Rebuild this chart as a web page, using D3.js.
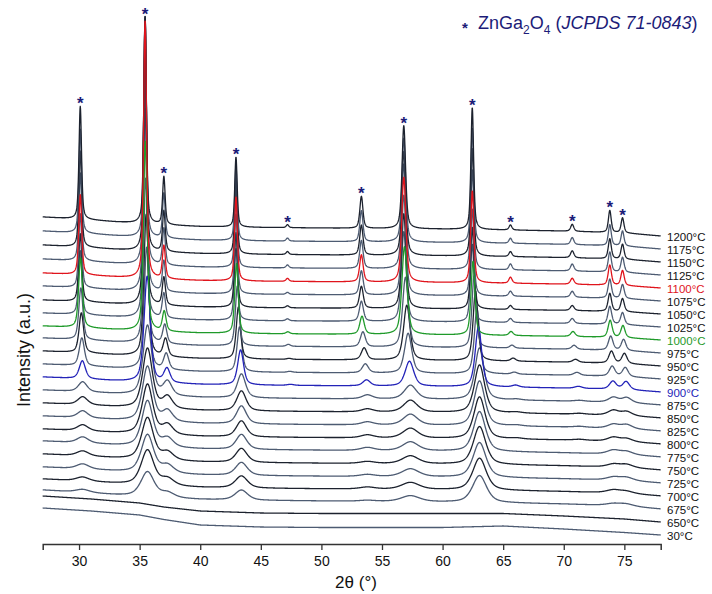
<!DOCTYPE html>
<html><head><meta charset="utf-8">
<script src="https://cdn.jsdelivr.net/npm/d3@7"></script>
<style>body{margin:0;background:#fff}svg{display:block}</style>
</head><body>
<svg id="c" width="712" height="594"></svg>
<script>
// ---------------- data ----------------
const temps = ["30","650","675","700","725","750","775","800","825","850","875","900",
               "925","950","975","1000","1025","1050","1075","1100","1125","1150","1175","1200"];
const majorTicks = [30,35,40,45,50,55,60,65,70,75];
// ZnGa2O4 reflections (2θ) for low- and high-temperature patterns
const peakPosLow  = [30.3,35.65,37.3,43.4,47.5,53.8,57.35,63.05,66.1,71.3,74.1,75.2];
const peakPosHigh = [30.1,35.45,37.0,42.95,47.2,53.3,56.8,62.45,65.6,70.7,73.8,74.85];
const peakWidthFactor = [1,1,1,0.95,1,1.2,1.4,1.05,1.1,1.2,1.1,1.1];
// per-temperature peak shift fraction (0 = low, 1 = high position)
const shiftFrac = [0,0,0,0,0,0,0,0,0,0,0,0.15,0.35,0.55,0.75,0.9,1,1,1,1,1,1,1,1];
// per-temperature FWHM (deg)
const fwhm = [1,1,1.3,1.25,1.2,1.15,1.1,1.05,1.0,0.95,0.85,0.6,0.5,0.45,0.4,0.36,0.33,0.31,0.3,0.29,0.28,0.27,0.26,0.25];
// background rise at the left edge (a.u.)
const leftRise = [27,26,19,17,16,16,16,15,15,15,15,15,15,15,15,14,14,14,15,15,16,17,18,19];
// peak heights (a.u.) per temperature
const h30_3 = [0,0,3,4,5,5,6,6,7,8,10,18,28,40,52,70,64,68,74,80,88,96,104,113];
const h35_6 = [0,0,25,35,38,42,46,50,55,60,70,106,122,142,165,190,210,230,250,258,244,234,222,208];
const h37_3 = [0,0,5,7,8,8,9,10,11,12,14,14,16,18,19,20,25,28,31,33,37,41,45,48];
const h43_4 = [0,0,10,12,13,14,15,16,18,20,24,35,45,52,60,70,72,75,80,84,80,78,75,70];
const h47_5 = [0,0,0,0,0,0,0,0,0,0,0,1,1,1,2,2,2,2,2,3,3,3,3,3];
const h53_8 = [0,0,1,2,2,2,3,3,3,3,4,6,9,12,15,18,20,22,24,27,28,30,31,32];
const h57_3 = [0,0,6,7,8,8,9,10,11,12,14,25,40,55,70,88,90,95,100,105,105,104,104,103];
const h63_0 = [0,0,27,32,35,38,40,42,45,48,52,60,65,70,72,74,78,82,87,92,100,108,115,122];
const h65_9 = [0,0,0,0,0,0,0,1,1,1,1,2,2,3,3,4,4,4,5,6,6,5,5,5];
const h71_2 = [0,0,0,0,0,0,0,1,1,1,1,2,3,3,4,5,5,5,6,6,7,7,7,7];
const h74_1 = [0,0,2,3,3,3,4,4,4,5,5,8,10,12,14,17,18,18,19,20,20,20,21,22];
const h75_2 = [0,0,2,2,3,3,3,3,4,4,5,8,9,10,11,12,12,13,14,15,15,15,15,15];
// background knots
const bgKnotX  = [27,29,31,33,35,37,40,45,50,55,60,65,70,75,78];
const bgCryst  = [1.0,0.92,0.84,0.74,0.66,0.58,0.50,0.45,0.42,0.39,0.36,0.32,0.26,0.16,0];
const bg30C    = [27,25.5,24,22,20,15.5,10,8,7.5,7.5,7.5,9,6,2.5,0];
const bg650C   = [26,24.5,23,21,19,15,11,9,8.5,8.5,8.5,8.5,6,3,0];

// ---------------- styles ----------------
const specialColor = {"900":"#2323b8","1000":"#1f9a2a","1100":"#e0141c"};
const grayA = "#4d5b72", grayB = "#1c222e";
const navy = "#1c1c78";

// ---------------- chart ----------------
const svg = d3.select("#c");
svg.append("rect").attr("width",712).attr("height",594).attr("fill","#fff");
const x = d3.scaleLinear().domain([27,78]).range([42.7,660.7]);
const y = d3.scaleLinear().domain([0,530]).range([544,14]);
const baseOffset = 9, stepOffset = 13;
const peakHeights = [h30_3,h35_6,h37_3,h43_4,h47_5,h53_8,h57_3,h63_0,h65_9,h71_2,h74_1,h75_2];
const bgCrystS = d3.scaleLinear().domain(bgKnotX).range(bgCryst);
const bg30S = d3.scaleLinear().domain(bgKnotX).range(bg30C);
const bg650S = d3.scaleLinear().domain(bgKnotX).range(bg650C);
const eta = 0.55;
function pv(t,c,w){const d=(t-c)/w;const d2=4*d*d;return eta/(1+d2)+(1-eta)*Math.exp(-Math.LN2*d2);}
const grid = d3.range(27,78.0001,0.02);

function curve(i){
  const off = baseOffset + stepOffset*i;
  const bg = i===0 ? bg30S : i===1 ? bg650S : (v=>leftRise[i]*bgCrystS(v));
  const peaks = peakHeights.map((hs,j)=>({h:hs[i],
      c:peakPosLow[j]+(peakPosHigh[j]-peakPosLow[j])*shiftFrac[i],
      w:fwhm[i]*peakWidthFactor[j]})).filter(p=>p.h>0);
  return grid.map(v=>{let s=off+bg(v);for(const p of peaks)s+=p.h*pv(v,p.c,p.w);return [v,s];});
}
const line = d3.line().x(d=>x(d[0])).y(d=>y(d[1]));
const data = temps.map((t,i)=>({t,i,pts:curve(i)}));
const gLines = svg.append("g").attr("fill","none").attr("stroke-linejoin","round");
const order = data.filter(d=>!specialColor[d.t]).concat(data.filter(d=>specialColor[d.t]));
gLines.selectAll("path").data(order).join("path")
  .attr("d",d=>line(d.pts))
  .attr("stroke",d=>specialColor[d.t]||(d.i%2?grayB:grayA))
  .attr("stroke-width",1.3);

// right labels
svg.append("g").selectAll("text").data(data).join("text")
  .attr("x",667).attr("y",d=>y(baseOffset+stepOffset*d.i)+4.5)
  .attr("font-family","Liberation Sans, Arial, sans-serif").attr("font-size",11.5)
  .attr("fill",d=>specialColor[d.t]||"#111")
  .text(d=>d.t+"°C");

// stars on top pattern
const topCurve = data[data.length-1];
const starG = svg.append("g");
peakPosHigh.forEach(c=>{
  const near = topCurve.pts.filter(p=>Math.abs(p[0]-c)<0.3);
  const m = d3.max(near,p=>p[1]);
  starG.append("text").attr("x",x(c)).attr("y",y(m)-6+9)
    .attr("text-anchor","middle").attr("font-family","Liberation Sans, Arial, sans-serif")
    .attr("font-size",17).attr("font-weight","bold").attr("fill",navy).text("*");
});

// x axis
const gx = svg.append("g").attr("transform","translate(0,544)");
gx.call(d3.axisBottom(x).tickValues(d3.range(27,79,1)).tickSize(3).tickFormat(""));
gx.call(d3.axisBottom(x).tickValues(majorTicks).tickSize(6).tickPadding(6).tickFormat(d3.format("d")));
gx.selectAll("path").attr("stroke","#333").attr("stroke-width",1.5);
gx.selectAll("line").attr("stroke","#333").attr("stroke-width",1.3);
gx.selectAll("text").attr("font-family","Liberation Sans, Arial, sans-serif").attr("font-size",14).attr("fill","#111");

svg.append("text").attr("x",356).attr("y",588).attr("text-anchor","middle")
  .attr("font-family","Liberation Sans, Arial, sans-serif").attr("font-size",17).attr("fill","#111")
  .text("2θ (°)");
svg.append("text").attr("transform","translate(30,350) rotate(-90)").attr("text-anchor","middle")
  .attr("font-family","Liberation Sans, Arial, sans-serif").attr("font-size",18).attr("fill","#111")
  .text("Intensity (a.u.)");

// legend
svg.append("text").attr("x",465).attr("y",33).attr("text-anchor","middle")
  .attr("font-family","Liberation Sans, Arial, sans-serif").attr("font-size",15).attr("font-weight","bold")
  .attr("fill",navy).text("*");
const lg = svg.append("text").attr("x",478).attr("y",29)
  .attr("font-family","Liberation Sans, Arial, sans-serif").attr("font-size",18).attr("fill",navy);
lg.append("tspan").text("ZnGa");
lg.append("tspan").attr("font-size",12).attr("dy",5).text("2");
lg.append("tspan").attr("dy",-5).text("O");
lg.append("tspan").attr("font-size",12).attr("dy",5).text("4");
lg.append("tspan").attr("dy",-5).text(" (");
lg.append("tspan").attr("font-style","italic").text("JCPDS 71-0843");
lg.append("tspan").text(")");
</script>
</body></html>
